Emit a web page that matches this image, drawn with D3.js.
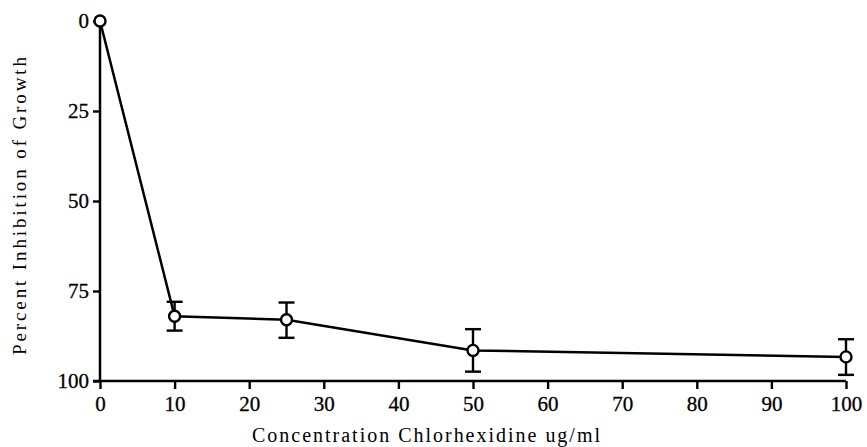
<!DOCTYPE html>
<html>
<head>
<meta charset="utf-8">
<script src="https://cdn.jsdelivr.net/npm/d3@7"></script>
<style>
body { margin: 0; background: #fff; }
svg text { font-family: "Liberation Serif", "Times New Roman", Times, serif !important; }
</style>
</head>
<body>
<svg id="chart" width="867" height="447"></svg>
<script>
// concentration (ug/ml) and percent inhibition
var Conc = [0, 10, 25, 50, 100];
var Inhib = [0, 82, 83, 91.5, 93.3];
var ErrLow = [0, 78, 78.2, 85.6, 88.4];
var ErrHigh = [0, 86, 88, 97.4, 98.3];

var XTicks = [0, 10, 20, 30, 40, 50, 60, 70, 80, 90, 100];
var YTicks = [0, 25, 50, 75, 100];

var svg = d3.select("#chart");

var x = d3.scaleLinear().domain([0, 100]).range([100, 846]);
var y = d3.scaleLinear().domain([0, 100]).range([21, 381]);

// y axis
var yAxis = svg.append("g")
	.attr("transform", "translate(100,0)")
	.call(d3.axisLeft(y).tickValues(YTicks).tickSize(7).tickPadding(4));

// x axis
var xAxis = svg.append("g")
	.attr("transform", "translate(0,381)")
	.call(d3.axisBottom(x).tickValues(XTicks).tickSize(8).tickPadding(7));

[yAxis, xAxis].forEach(function(a)
	{
		a.attr("font-family", null).attr("font-size", 21);
		a.select(".domain").remove();
		a.selectAll("line").attr("stroke", "#000").attr("stroke-width", 2.4);
		a.selectAll("text").attr("fill", "#000").attr("stroke", "#000").attr("stroke-width", 0.3);
	}
);

svg.append("line")
	.attr("x1", 100).attr("x2", 100)
	.attr("y1", y(0)).attr("y2", y(100) + 1)
	.attr("stroke", "#000").attr("stroke-width", 2.5);

svg.append("line")
	.attr("x1", 93).attr("x2", x(100))
	.attr("y1", y(100)).attr("y2", y(100))
	.attr("stroke", "#000").attr("stroke-width", 2.5);

var pts = Conc.map(function(c, i)
	{
		return {c: c, v: Inhib[i], lo: ErrLow[i], hi: ErrHigh[i]};
	}
);

// data line
svg.append("path")
	.datum(pts)
	.attr("fill", "none")
	.attr("stroke", "#000")
	.attr("stroke-width", 2.5)
	.attr("d", d3.line().x(function(d) { return x(d.c); }).y(function(d) { return y(d.v); }));

// error bars
var bars = svg.selectAll(".err")
	.data(pts.filter(function(d) { return d.hi > d.lo; }))
	.enter().append("g")
	.attr("class", "err")
	.attr("stroke", "#000")
	.attr("stroke-width", 2.4);

bars.append("line")
	.attr("x1", function(d) { return x(d.c); })
	.attr("x2", function(d) { return x(d.c); })
	.attr("y1", function(d) { return y(d.lo); })
	.attr("y2", function(d) { return y(d.hi); });

bars.selectAll(".cap")
	.data(function(d) { return [{c: d.c, v: d.lo}, {c: d.c, v: d.hi}]; })
	.enter().append("line")
	.attr("x1", function(d) { return x(d.c) - 8; })
	.attr("x2", function(d) { return x(d.c) + 8; })
	.attr("y1", function(d) { return y(d.v); })
	.attr("y2", function(d) { return y(d.v); });

// open circles
svg.selectAll(".pt")
	.data(pts)
	.enter().append("circle")
	.attr("class", "pt")
	.attr("cx", function(d) { return x(d.c); })
	.attr("cy", function(d) { return y(d.v); })
	.attr("r", 5.5)
	.attr("fill", "#fff")
	.attr("stroke", "#000")
	.attr("stroke-width", 2.4);

// axis titles
svg.append("text")
	.attr("transform", "translate(26,206) rotate(-90)")
	.attr("text-anchor", "middle")
	.attr("font-size", 19)
	.attr("textLength", 298)
	.attr("lengthAdjust", "spacing")
	.text("Percent Inhibition of Growth");

svg.append("text")
	.attr("x", 426)
	.attr("y", 442)
	.attr("text-anchor", "middle")
	.attr("font-size", 20)
	.attr("textLength", 348)
	.attr("lengthAdjust", "spacing")
	.text("Concentration Chlorhexidine ug/ml");
</script>
</body>
</html>
